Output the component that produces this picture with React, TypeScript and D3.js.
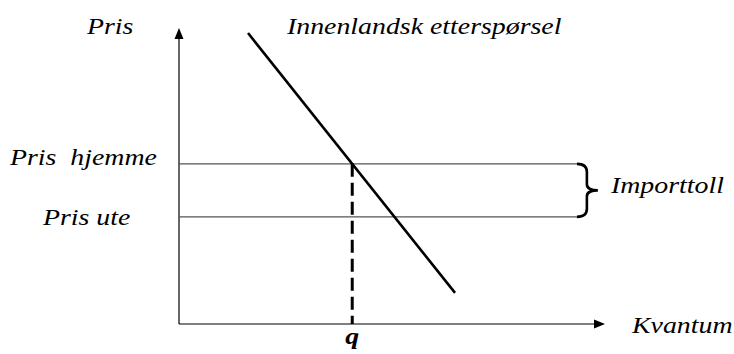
import * as d3 from 'd3';
import { useEffect, useRef } from 'react';

// demand curve endpoints (quantity, price)
const demandQ = [1.62, 6.48];
const demandP = [9.83, 1.05];
// price levels
const priceNames = ['Pris  hjemme', 'Pris ute'];
const priceLevels = [5.41, 3.62];
const priceLineEnd = 9.34;

const W = 734;
const H = 354;

const App = () => {
	const svgRef = useRef<SVGSVGElement>(null);

	useEffect(() => {
		const svg = d3.select(svgRef.current);
		svg.selectAll('*').remove();

		const x = d3.scaleLinear([0, 10], [179, 605]);
		const y = d3.scaleLinear([0, 10], [324, 28]);
		const font = 'Liberation Serif, DejaVu Serif, Times New Roman, serif';

		// axes
		svg.append('line').attr('x1', x(0)).attr('x2', x(10) - 8).attr('y1', y(0)).attr('y2', y(0))
			.attr('stroke', '#000').attr('stroke-width', 1.2);
		svg.append('line').attr('x1', x(0)).attr('x2', x(0)).attr('y1', y(0)).attr('y2', y(10) + 8)
			.attr('stroke', '#000').attr('stroke-width', 1.2);
		svg.append('path')
			.attr('d', `M${x(10)},${y(0)} L${x(10) - 11},${y(0) - 4.5} L${x(10) - 11},${y(0) + 4.5} Z`)
			.attr('fill', '#000');
		svg.append('path')
			.attr('d', `M${x(0)},${y(10)} L${x(0) - 4.5},${y(10) + 11} L${x(0) + 4.5},${y(10) + 11} Z`)
			.attr('fill', '#000');

		// price lines
		svg.selectAll('line.price').data(priceLevels).join('line')
			.attr('class', 'price')
			.attr('x1', x(0)).attr('x2', x(priceLineEnd))
			.attr('y1', d => y(d)).attr('y2', d => y(d))
			.attr('stroke', '#555').attr('stroke-width', 1.4);

		// demand
		const pts: [number, number][] = demandQ.map((q, i) => [x(q), y(demandP[i])]);
		svg.append('path').attr('d', d3.line()(pts)).attr('fill', 'none')
			.attr('stroke', '#000').attr('stroke-width', 2.6);

		// quantity at home price
		const t = (demandP[0] - priceLevels[0]) / (demandP[0] - demandP[1]);
		const qHome = demandQ[0] + t * (demandQ[1] - demandQ[0]);
		svg.append('line').attr('x1', x(qHome)).attr('x2', x(qHome))
			.attr('y1', y(priceLevels[0])).attr('y2', y(0))
			.attr('stroke', '#000').attr('stroke-width', 3).attr('stroke-dasharray', '13,6');

		// brace
		const bx = x(priceLineEnd);
		const yt = y(priceLevels[0]);
		const yb = y(priceLevels[1]);
		const ym = (yt + yb) / 2;
		svg.append('path')
			.attr('d', `M${bx},${yt} Q${bx + 10},${yt} ${bx + 10},${yt + 8} L${bx + 10},${ym - 6} Q${bx + 10},${ym} ${bx + 21},${ym}`
				+ ` Q${bx + 10},${ym} ${bx + 10},${ym + 6} L${bx + 10},${yb - 8} Q${bx + 10},${yb} ${bx},${yb}`)
			.attr('fill', 'none').attr('stroke', '#000').attr('stroke-width', 2.6);

		const txt = (s: string, tx: number, ty: number, anchor = 'start', bold = false) =>
			svg.append('text').text(s)
				.attr('transform', `translate(${tx},${ty}) scale(1.16,1)`)
				.style('font-family', font).style('font-style', 'italic').style('font-size', '24px')
				.style('font-weight', bold ? 'bold' : 'normal')
				.attr('text-anchor', anchor).attr('fill', '#000')
				.style('white-space', 'pre');

		txt('Pris', 87, 34);
		txt('Innenlandsk etterspørsel', 287, 34);
		const labelX = [10, 43];
		const labelDy = [1, 8];
		priceNames.forEach((n, i) => {
			txt(n, labelX[i], y(priceLevels[i]) + labelDy[i]);
		});
		txt('Importtoll', 611, 193);
		txt('Kvantum', 632, 333);
		txt('q', x(qHome), 344, 'middle', true);
	}, []);

	return (
		<svg ref={svgRef} width={W} height={H} viewBox={`0 0 ${W} ${H}`}
			style={{ position: 'absolute', left: 0, top: 0, background: '#fff' }} />
	);
};

export default App;
